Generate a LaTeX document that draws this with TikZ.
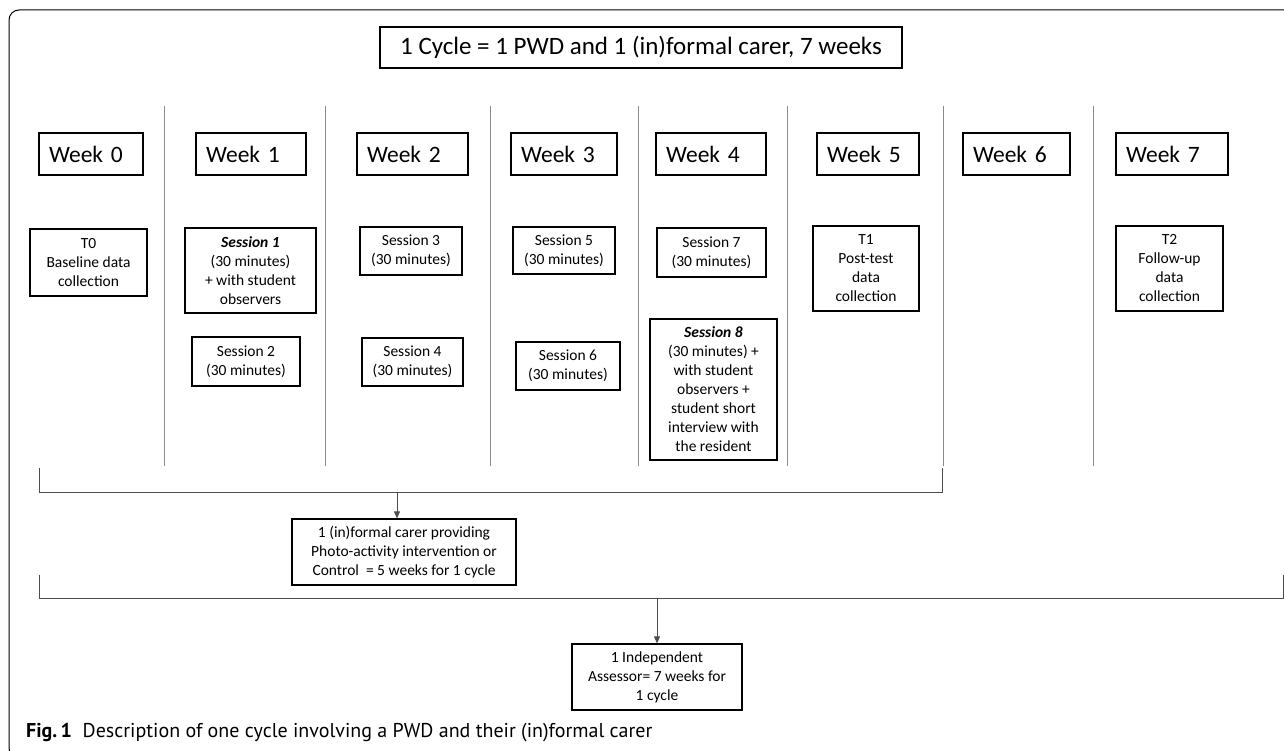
\documentclass[tikz,border=0pt]{standalone}
\usepackage{fontspec}
\setmainfont{Carlito}
\newfontfamily\capfont{PT Sans}
\usetikzlibrary{arrows.meta,positioning,calc}

\tikzset{
  weekbox/.style={draw, line width=1.2pt, minimum height=42pt, inner xsep=10pt,
    text width=#1, align=left, font=\fontsize{23.5}{28}\selectfont},
  infobox/.style={draw, line width=1.2pt, inner sep=0pt, align=center,
    font=\fontsize{15.5}{19}\selectfont},
  sepline/.style={black!45, line width=0.8pt},
  bracket/.style={black!70, line width=0.9pt},
  flow/.style={-{Triangle[length=7pt,width=6pt]}, black!70, line width=0.8pt}
}

\begin{document}
\begin{tikzpicture}[x=1pt, y=-1pt]

\useasboundingbox (0,0) rectangle (1284,751);
\clip (0,0) rectangle (1284,751);

% Outer frame (open to the right)
\draw[line width=1pt, rounded corners=10pt] (1300,10) -- (9,10) -- (9,758) -- (1300,758);

% Title
\node[draw, line width=1.2pt, minimum width=522pt, minimum height=41pt, inner xsep=4pt, font=\fontsize{25}{30}\selectfont] (title) at (641,47.5) {1 Cycle = 1 PWD and 1 (in)formal carer, 7 weeks\hspace{14pt}};

% Week separators
\foreach \x in {164,325,490,638,787,943,1093} {
  \draw[sepline] (\x,106) -- (\x,466);
}

% Week headers
\foreach \i/\cx/\w in {0/91/104, 1/251/110, 2/412.5/111, 3/564/106, 4/711/110, 5/868/102, 6/1016.5/107, 7/1172/112} {
  \pgfmathsetmacro{\tw}{\w-20}
  \node[weekbox=\tw pt] (week\i) at (\cx,154) {Week \i};
}

% Activities per week
\node[infobox, minimum width=117pt, minimum height=67pt] (tzero) at (88.5,262.5) {T0\\Baseline data\\collection};
\node[infobox, minimum width=131pt, minimum height=85pt] (sess1) at (250.5,270.5) {\textbf{\textit{Session 1}}\\(30 minutes)\\+ with student\\observers};
\node[infobox, minimum width=108pt, minimum height=49pt] (sess2) at (246,361.5) {Session 2\\(30 minutes)};
\node[infobox, minimum width=102pt, minimum height=48pt] (sess3) at (411,251) {Session 3\\(30 minutes)};
\node[infobox, minimum width=101pt, minimum height=48pt] (sess4) at (412.5,362) {Session 4\\(30 minutes)};
\node[infobox, minimum width=102pt, minimum height=47pt] (sess5) at (564,250.5) {Session 5\\(30 minutes)};
\node[infobox, minimum width=104pt, minimum height=48pt] (sess6) at (568,366) {Session 6\\(30 minutes)};
\node[infobox, minimum width=109pt, minimum height=49pt] (sess7) at (711.5,252.5) {Session 7\\(30 minutes)};
\node[infobox, minimum width=127pt, minimum height=141pt] (sess8) at (713.5,389.5) {\textbf{\textit{Session 8}}\\(30 minutes) +\\with student\\observers +\\student short\\interview with\\the resident};
\node[infobox, minimum width=106pt, minimum height=85pt] (tone) at (866,268.5) {T1\\Post-test\\data\\collection};
\node[infobox, minimum width=107pt, minimum height=85pt] (ttwo) at (1169.5,268.5) {T2\\Follow-up\\data\\collection};

% Carer bracket (weeks 0-4)
\draw[bracket] (39,468) -- (39,492) -- (942,492) -- (942,468);
\coordinate (carerfork) at (397,492);
\node[infobox, minimum width=224pt, minimum height=66pt] (carer) at (404,552) {1 (in)formal carer providing\\Photo-activity intervention or\\Control\ \ = 5 weeks for 1 cycle};
\draw[flow] (carerfork) -- (carerfork |- carer.north);

% Assessor bracket (weeks 0-7)
\draw[bracket] (39,575) -- (39,598) -- (1283,598) -- (1283,575);
\coordinate (assessfork) at (657,598);
\node[infobox, minimum width=170pt, minimum height=66pt] (assessor) at (657,677) {1 Independent\\Assessor= 7 weeks for\\1 cycle};
\draw[flow] (assessfork) -- (assessor.north);

% Caption
\node[anchor=base west, inner sep=0pt, font=\capfont\fontsize{20}{24}\selectfont] (caption) at (26,737) {\textbf{Fig.\,1}\ \ Description of one cycle involving a PWD and their (in)formal carer};

\end{tikzpicture}
\end{document}
